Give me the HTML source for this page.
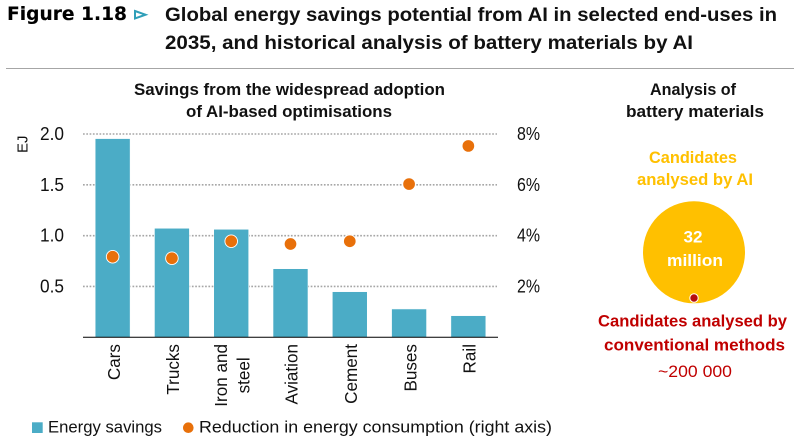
<!DOCTYPE html>
<html lang="en">
<head>
<meta charset="utf-8">
<title>Figure 1.18</title>
<style>
html,body{margin:0;padding:0;background:#fff;}
svg{display:block;}
text{font-family:"Liberation Sans",sans-serif;}
</style>
</head>
<body>
<svg id="fig" xmlns="http://www.w3.org/2000/svg" width="797" height="442" viewBox="0 0 797 442">
  <text x="7" y="20" textLength="120" lengthAdjust="spacingAndGlyphs" style="font-family:'DejaVu Sans',sans-serif;font-weight:bold;font-size:19px" fill="#000" stroke="#000" stroke-width="0.12">Figure 1.18</text>
  <path d="M135 11 L145.5 14.7 L135 18.4 Z" fill="#fff" stroke="#2f9fb8" stroke-width="2"/>
  <text x="165" y="21" textLength="612" lengthAdjust="spacingAndGlyphs" style="font-weight:bold;font-size:19.5px" fill="#111">Global energy savings potential from AI in selected end-uses in</text>
  <text x="165" y="49" textLength="528" lengthAdjust="spacingAndGlyphs" style="font-weight:bold;font-size:19.5px" fill="#111">2035, and historical analysis of battery materials by AI</text>
  <line x1="6" x2="794" y1="68.5" y2="68.5" stroke="#a6a6a6" stroke-width="1"/>

  <text x="134" y="95" textLength="311" lengthAdjust="spacingAndGlyphs" style="font-weight:bold;font-size:17px" fill="#111">Savings from the widespread adoption</text>
  <text x="186" y="117" textLength="206" lengthAdjust="spacingAndGlyphs" style="font-weight:bold;font-size:17px" fill="#111">of AI-based optimisations</text>
  <text transform="translate(27.5,153) rotate(-90)" style="font-size:15px" fill="#111">EJ</text>

  <g id="grid"></g>
  <g id="bars"></g>
  <line x1="83" x2="498" y1="337.3" y2="337.3" stroke="#000" stroke-width="1"/>
  <g id="points"></g>
  <g id="ticks"></g>
  <g id="cats"></g>

  <rect x="32" y="422.3" width="10.7" height="10.7" fill="#4bacc6"/>
  <text x="48" y="432.5" textLength="114" lengthAdjust="spacingAndGlyphs" style="font-size:17px" fill="#111">Energy savings</text>
  <circle cx="188.3" cy="427.7" r="5.3" fill="#e8700a"/>
  <text x="199" y="432.5" textLength="353" lengthAdjust="spacingAndGlyphs" style="font-size:17px" fill="#111">Reduction in energy consumption (right axis)</text>

  <text x="650" y="95" textLength="86" lengthAdjust="spacingAndGlyphs" style="font-weight:bold;font-size:17px" fill="#111">Analysis of</text>
  <text x="626" y="117" textLength="138" lengthAdjust="spacingAndGlyphs" style="font-weight:bold;font-size:17px" fill="#111">battery materials</text>
  <text x="649" y="163" textLength="88" lengthAdjust="spacingAndGlyphs" style="font-weight:bold;font-size:17px" fill="#ffc000">Candidates</text>
  <text x="637" y="185" textLength="116" lengthAdjust="spacingAndGlyphs" style="font-weight:bold;font-size:17px" fill="#ffc000">analysed by AI</text>
  <circle cx="694" cy="252.3" r="51" fill="#ffc000"/>
  <text x="683.5" y="242.7" textLength="19" lengthAdjust="spacingAndGlyphs" style="font-weight:bold;font-size:17px" fill="#fff">32</text>
  <text x="667" y="266" textLength="56" lengthAdjust="spacingAndGlyphs" style="font-weight:bold;font-size:17px" fill="#fff">million</text>
  <circle cx="694" cy="298" r="4.2" fill="#b50d0d" stroke="#fff" stroke-width="1"/>
  <text x="598" y="326.7" textLength="189" lengthAdjust="spacingAndGlyphs" style="font-weight:bold;font-size:17px" fill="#c00000">Candidates analysed by</text>
  <text x="604" y="350.7" textLength="181" lengthAdjust="spacingAndGlyphs" style="font-weight:bold;font-size:17px" fill="#c00000">conventional methods</text>
  <text x="658" y="377" textLength="74" lengthAdjust="spacingAndGlyphs" style="font-size:17px" fill="#c00000">~200 000</text>
</svg>
<script>
const categories = [["Cars"], ["Trucks"], ["Iron and", "steel"], ["Aviation"], ["Cement"], ["Buses"], ["Rail"]];
const savingsEJ = [1.955, 1.073, 1.063, 0.675, 0.449, 0.279, 0.213];
const reductionPct = [3.17, 3.11, 3.78, 3.67, 3.78, 6.03, 7.53];
const leftTicks = [0.5, 1.0, 1.5, 2.0];
const rightTicks = [2, 4, 6, 8];

const NS = 'http://www.w3.org/2000/svg';
const plotLeft = 83, plotRight = 498, plotBottom = 337.3, plotTop = 134;
const leftMax = 2, rightMax = 8;
const band = (plotRight - plotLeft) / categories.length;
const barWidth = 35;
const xScale = i => plotLeft + band * (i + 0.5);
const yLeft = v => plotBottom - (plotBottom - plotTop) * v / leftMax;
const yRight = v => plotBottom - (plotBottom - plotTop) * v / rightMax;
const make = (tag, parent, attrs) => {
  const el = document.createElementNS(NS, tag);
  Object.keys(attrs).forEach(k => el.setAttribute(k, attrs[k]));
  parent.appendChild(el);
  return el;
};

const gridG = document.getElementById('grid');
leftTicks.forEach(t => {
  const ln = make('line', gridG, {x1: plotLeft, x2: plotRight - 1, y1: yLeft(t), y2: yLeft(t), stroke: '#a6a6a6', 'stroke-width': 1.6, 'stroke-dasharray': '1.7 1.6'});
  
  
});

const barsG = document.getElementById('bars');
savingsEJ.forEach((v, i) => {
  const r = make('rect', barsG, {x: xScale(i) - barWidth / 2, y: yLeft(v), width: barWidth, height: plotBottom - yLeft(v), fill: '#4bacc6', stroke: '#fff', 'stroke-width': 0.6});
  
  
});

const pointsG = document.getElementById('points');
reductionPct.forEach((v, i) => {
  const c = make('circle', pointsG, {cx: xScale(i), cy: yRight(v), r: 6.3, fill: '#e8700a', stroke: '#fff', 'stroke-width': 0.9});
  
  
});

const ticksG = document.getElementById('ticks');
leftTicks.forEach(t => {
  const tx = make('text', ticksG, {x: 64, y: yLeft(t) + 6, 'text-anchor': 'end', 'font-size': 18, fill: '#111', textLength: 24, lengthAdjust: 'spacingAndGlyphs'});
  
  
  tx.textContent = t.toFixed(1);
});
rightTicks.forEach(t => {
  const tx = make('text', ticksG, {x: 517, y: yRight(t) + 6, 'font-size': 18, fill: '#111', textLength: 23, lengthAdjust: 'spacingAndGlyphs'});
  
  
  tx.textContent = t + '%';
});

const catG = document.getElementById('cats');
const catTop = 344;
const lineGap = 22.5;
const squeeze = 0.95;
categories.forEach((lines, i) => {
  const items = lines.map((s, j) => {
    const baseX = xScale(i) + 7.2 + (j - (lines.length - 1) / 2) * lineGap;
    const tx = make('text', catG, {'text-anchor': 'middle', 'font-size': 18, fill: '#111'});
    
    
    tx.textContent = s;
    return {tx: tx, baseX: baseX, len: tx.getComputedTextLength() * squeeze};
  });
  const blockLen = Math.max.apply(null, items.map(o => o.len));
  const centerY = catTop + blockLen / 2;
  items.forEach(o => {
    o.tx.setAttribute('transform', 'translate(' + o.baseX + ',' + centerY + ') rotate(-90) scale(' + squeeze + ',1)');
  });
});
</script>
</body>
</html>
